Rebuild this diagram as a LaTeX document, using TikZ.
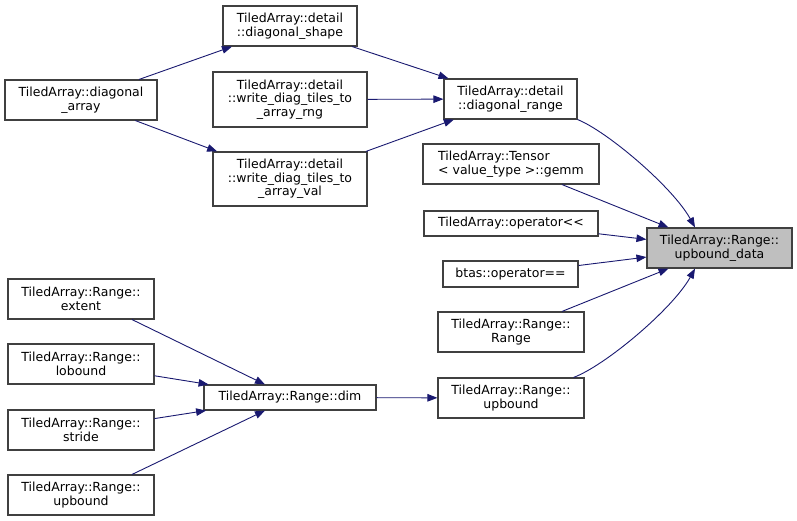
\documentclass[tikz,border=0pt]{standalone}
\usepackage{fontspec}
\setmainfont{DejaVu Sans}
\usetikzlibrary{arrows.meta}
\definecolor{edgec}{HTML}{191970}
\definecolor{boxc}{HTML}{404040}
\definecolor{rootc}{HTML}{BFBFBF}
\begin{document}
\begin{tikzpicture}[x=1pt,y=-1pt,
  box/.style={draw=boxc, line width=1.1pt, fill=white, rectangle, inner sep=0pt,
    align=center, font=\fontsize{12.5}{13.5}\selectfont},
  root/.style={box, fill=rootc},
  edge/.style={draw=edgec, line width=0.9pt, -{Triangle[length=10pt,width=7.5pt]}}]
\useasboundingbox (0,0) rectangle (797,521);
% right column
\node[root, minimum width=145pt, minimum height=40pt] (ubd) at (719.5,248) {TiledArray::Range::\\upbound\_data};
% middle column
\node[box, minimum width=133pt, minimum height=40pt] (drange) at (510.5,99) {TiledArray::detail\\::diagonal\_range};
\node[box, minimum width=176pt, minimum height=40pt, align=left, inner xsep=12pt] (gemm) at (511,164) {TiledArray::Tensor\\\hbox{<} value\_type \hbox{>}::gemm};
\node[box, minimum width=174pt, minimum height=25pt] (opll) at (511,223.5) {TiledArray::operator\hbox{<}\hbox{<}};
\node[box, minimum width=135pt, minimum height=26pt] (btas) at (510.5,274) {btas::operator==};
\node[box, minimum width=146pt, minimum height=40pt] (rrange) at (511,332) {TiledArray::Range::\\Range};
\node[box, minimum width=146pt, minimum height=40pt] (rupb) at (511,398) {TiledArray::Range::\\upbound};
% second column
\node[box, minimum width=134pt, minimum height=40pt] (dshape) at (290,26) {TiledArray::detail\\::diagonal\_shape};
\node[box, minimum width=154pt, minimum height=55pt] (wrng) at (290,99.5) {TiledArray::detail\\::write\_diag\_tiles\_to\\\_array\_rng};
\node[box, minimum width=154pt, minimum height=54pt] (wval) at (290,179) {TiledArray::detail\\::write\_diag\_tiles\_to\\\_array\_val};
\node[box, minimum width=172pt, minimum height=25pt] (dim) at (290,397.5) {TiledArray::Range::dim};
% left column
\node[box, minimum width=152pt, minimum height=40pt] (darr) at (81,100) {TiledArray::diagonal\\\_array};
\node[box, minimum width=146pt, minimum height=40pt] (extent) at (81,299) {TiledArray::Range::\\extent};
\node[box, minimum width=146pt, minimum height=40pt] (lob) at (81,364) {TiledArray::Range::\\lobound};
\node[box, minimum width=146pt, minimum height=40pt] (stride) at (81,430) {TiledArray::Range::\\stride};
\node[box, minimum width=146pt, minimum height=40pt] (lupb) at (81,495) {TiledArray::Range::\\upbound};
% edges
\draw[edge] (darr) -- (dshape);
\draw[edge] (darr) -- (wval);
\draw[edge] (dshape) -- (drange);
\draw[edge] (wrng) -- (drange);
\draw[edge] (wval) -- (drange);
\draw[edge] (drange.south east) .. controls +(30,12) and +(-22,-40) .. ([xshift=-24.5pt]ubd.north);
\draw[edge] (gemm) -- (ubd);
\draw[edge] (opll) -- (ubd);
\draw[edge] (btas) -- (ubd);
\draw[edge] (rrange) -- (ubd);
\draw[edge] ([xshift=-11pt]rupb.north east) .. controls +(32,-12) and +(-22,40) .. ([xshift=-24.5pt]ubd.south);
\draw[edge] ([xshift=51pt]extent.south) -- ([xshift=-25pt]dim.north);
\draw[edge] (lob) -- (dim);
\draw[edge] (stride) -- (dim);
\draw[edge] ([xshift=51pt]lupb.north) -- ([xshift=-25pt]dim.south);
\draw[edge] (dim) -- (rupb);
\end{tikzpicture}
\end{document}
